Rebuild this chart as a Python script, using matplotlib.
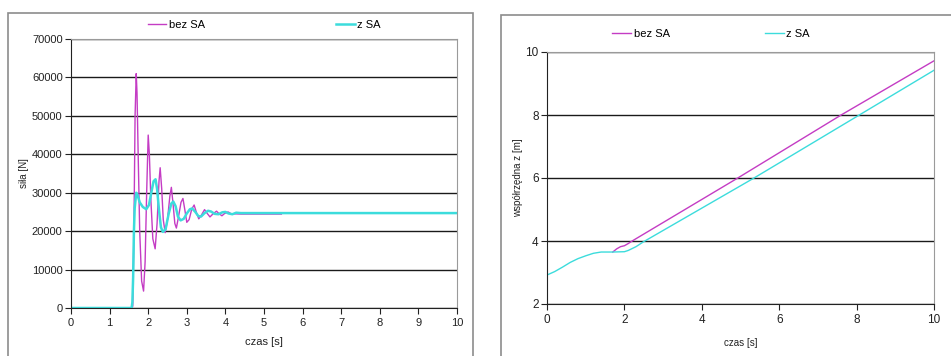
"""Two-panel comparison: force and z coordinate, with and without SA."""
import matplotlib

matplotlib.use("Agg")
import matplotlib.pyplot as plt
from matplotlib.patches import Rectangle

plt.rcParams["font.family"] = ["Liberation Sans", "DejaVu Sans"]

MAGENTA = "#c43cc4"
CYAN = "#3cdcdc"

# left panel: force [N] over time [s]
force_bez_t = [0, 1.58, 1.60, 1.63, 1.66, 1.69, 1.71, 1.74, 1.78, 1.83, 1.88, 1.92, 1.96, 2.00,
               2.03, 2.07, 2.12, 2.18, 2.23, 2.28, 2.31, 2.35, 2.39, 2.44, 2.50, 2.56, 2.60,
               2.64, 2.69, 2.73, 2.79, 2.85, 2.90, 2.95, 3.00, 3.06, 3.13, 3.19, 3.25, 3.31,
               3.38, 3.46, 3.53, 3.60, 3.68, 3.77, 3.84, 3.91, 3.98, 4.07, 4.15, 4.25, 4.40, 5.45]
force_bez = [0, 0, 500, 20000, 50000, 61000, 56000, 40000, 20000, 7000, 4400, 12000, 30000, 45000,
             40000, 28000, 18000, 15400, 22000, 33000, 36500, 31000, 23000, 19600, 23000, 29000, 31400,
             27500, 22000, 20800, 24000, 27500, 28500, 25500, 22300, 23000, 25800, 26800, 24800, 23200,
             24200, 25600, 24600, 23700, 24500, 25200, 24500, 24000, 24600, 25000, 24500, 24500, 24450, 24450]

force_z_t = [0, 1.57, 1.59, 1.61, 1.63, 1.65, 1.67, 1.69, 1.72, 1.78, 1.86, 1.95, 2.02, 2.08, 2.14,
             2.19, 2.23, 2.28, 2.33, 2.38, 2.45, 2.53, 2.60, 2.65, 2.71, 2.77, 2.84, 2.92, 3.00,
             3.08, 3.14, 3.22, 3.30, 3.37, 3.46, 3.55, 3.63, 3.72, 3.82, 3.92, 4.00, 4.08, 4.18,
             4.28, 4.40, 10]
force_z = [0, 0, 1500, 8000, 20000, 26000, 28000, 30000, 29500, 27500, 26300, 25700, 26800, 30000, 33000,
           33500, 31000, 25500, 21000, 19800, 20500, 24500, 27200, 27700, 26500, 23800, 22800, 23200, 24600,
           25700, 25900, 25000, 23900, 23800, 24700, 25300, 25100, 24500, 24400, 24900, 25000, 24600, 24400,
           24800, 24700, 24700]

# right panel: z coordinate [m] over time [s]
zpos_z_t = [0, 0.2, 0.4, 0.6, 0.8, 1.0, 1.2, 1.4, 1.7, 2.0, 2.1, 2.3, 2.5, 5.35, 8.07, 10]
zpos_z = [2.92, 3.03, 3.17, 3.32, 3.44, 3.53, 3.61, 3.65, 3.65, 3.66, 3.70, 3.82, 3.98, 6.0, 8.0, 9.42]

zpos_bez_t = [1.7, 1.8, 1.9, 2.0, 2.1, 2.2, 4.93, 7.6, 10]
zpos_bez = [3.65, 3.75, 3.82, 3.85, 3.92, 4.0, 6.0, 8.0, 9.72]


def style_axis(axis, xticks, yticks):
    axis.set_xticks(xticks)
    axis.set_yticks(yticks)
    axis.set_xlim(xticks[0], xticks[-1])
    axis.set_ylim(yticks[0], yticks[-1])
    axis.grid(axis="y", color="#1a1a1a", linewidth=1.0)
    axis.set_axisbelow(True)
    for side in ("top", "right"):
        axis.spines[side].set_color("#9a9a9a")
    for side in ("left", "bottom"):
        axis.spines[side].set_color("#222222")
    axis.tick_params(direction="out", length=4, width=0.8, color="#222222", labelcolor="#222222")
    axis.tick_params(axis="y", pad=2)


fig = plt.figure(figsize=(9.51, 3.56), dpi=100)
fig.patch.set_facecolor("white")

# outer chart frames
fig.add_artist(Rectangle((8 / 951, -0.1), 465 / 951, 1.1 - 13 / 356, transform=fig.transFigure,
                         fill=False, edgecolor="#8c8c8c", linewidth=1.2))
fig.add_artist(Rectangle((501 / 951, -0.1), 480 / 951, 1.1 - 15 / 356, transform=fig.transFigure,
                         fill=False, edgecolor="#8c8c8c", linewidth=1.2))

left = fig.add_axes([71 / 951, 1 - 308 / 356, 386 / 951, 269 / 356])
left.plot(force_bez_t, force_bez, color=MAGENTA, linewidth=1.0, label="bez SA")
left.plot(force_z_t, force_z, color=CYAN, linewidth=1.8, label="z SA")
style_axis(left, list(range(0, 11)), list(range(0, 70001, 10000)))
left.tick_params(labelsize=8)
left.set_xlabel("czas [s]", fontsize=8, labelpad=6, color="#222222")
left.set_ylabel("siła [N]", fontsize=7, labelpad=2, color="#222222")
left.legend(loc="center", bbox_to_anchor=(0.5, 1 + 14 / 269), ncol=2, frameon=False, fontsize=8,
            handlelength=1.7, handletextpad=0.2, columnspacing=11.8)

right = fig.add_axes([547 / 951, 1 - 304 / 356, 387 / 951, 252 / 356])
right.plot(zpos_bez_t, zpos_bez, color=MAGENTA, linewidth=1.0, label="bez SA")
right.plot(zpos_z_t, zpos_z, color=CYAN, linewidth=1.0, label="z SA")
style_axis(right, [0, 2, 4, 6, 8, 10], [2, 4, 6, 8, 10])
right.tick_params(labelsize=8.5)
right.set_xlabel("czas [s]", fontsize=7, labelpad=8, color="#222222")
right.set_ylabel("współrzędna z [m]", fontsize=7, labelpad=2, color="#222222")
right.legend(loc="center", bbox_to_anchor=(0.424, 1 + 18 / 252), ncol=2, frameon=False, fontsize=8,
             handlelength=1.7, handletextpad=0.2, columnspacing=8.6)

fig.savefig("out.png", dpi=100)
